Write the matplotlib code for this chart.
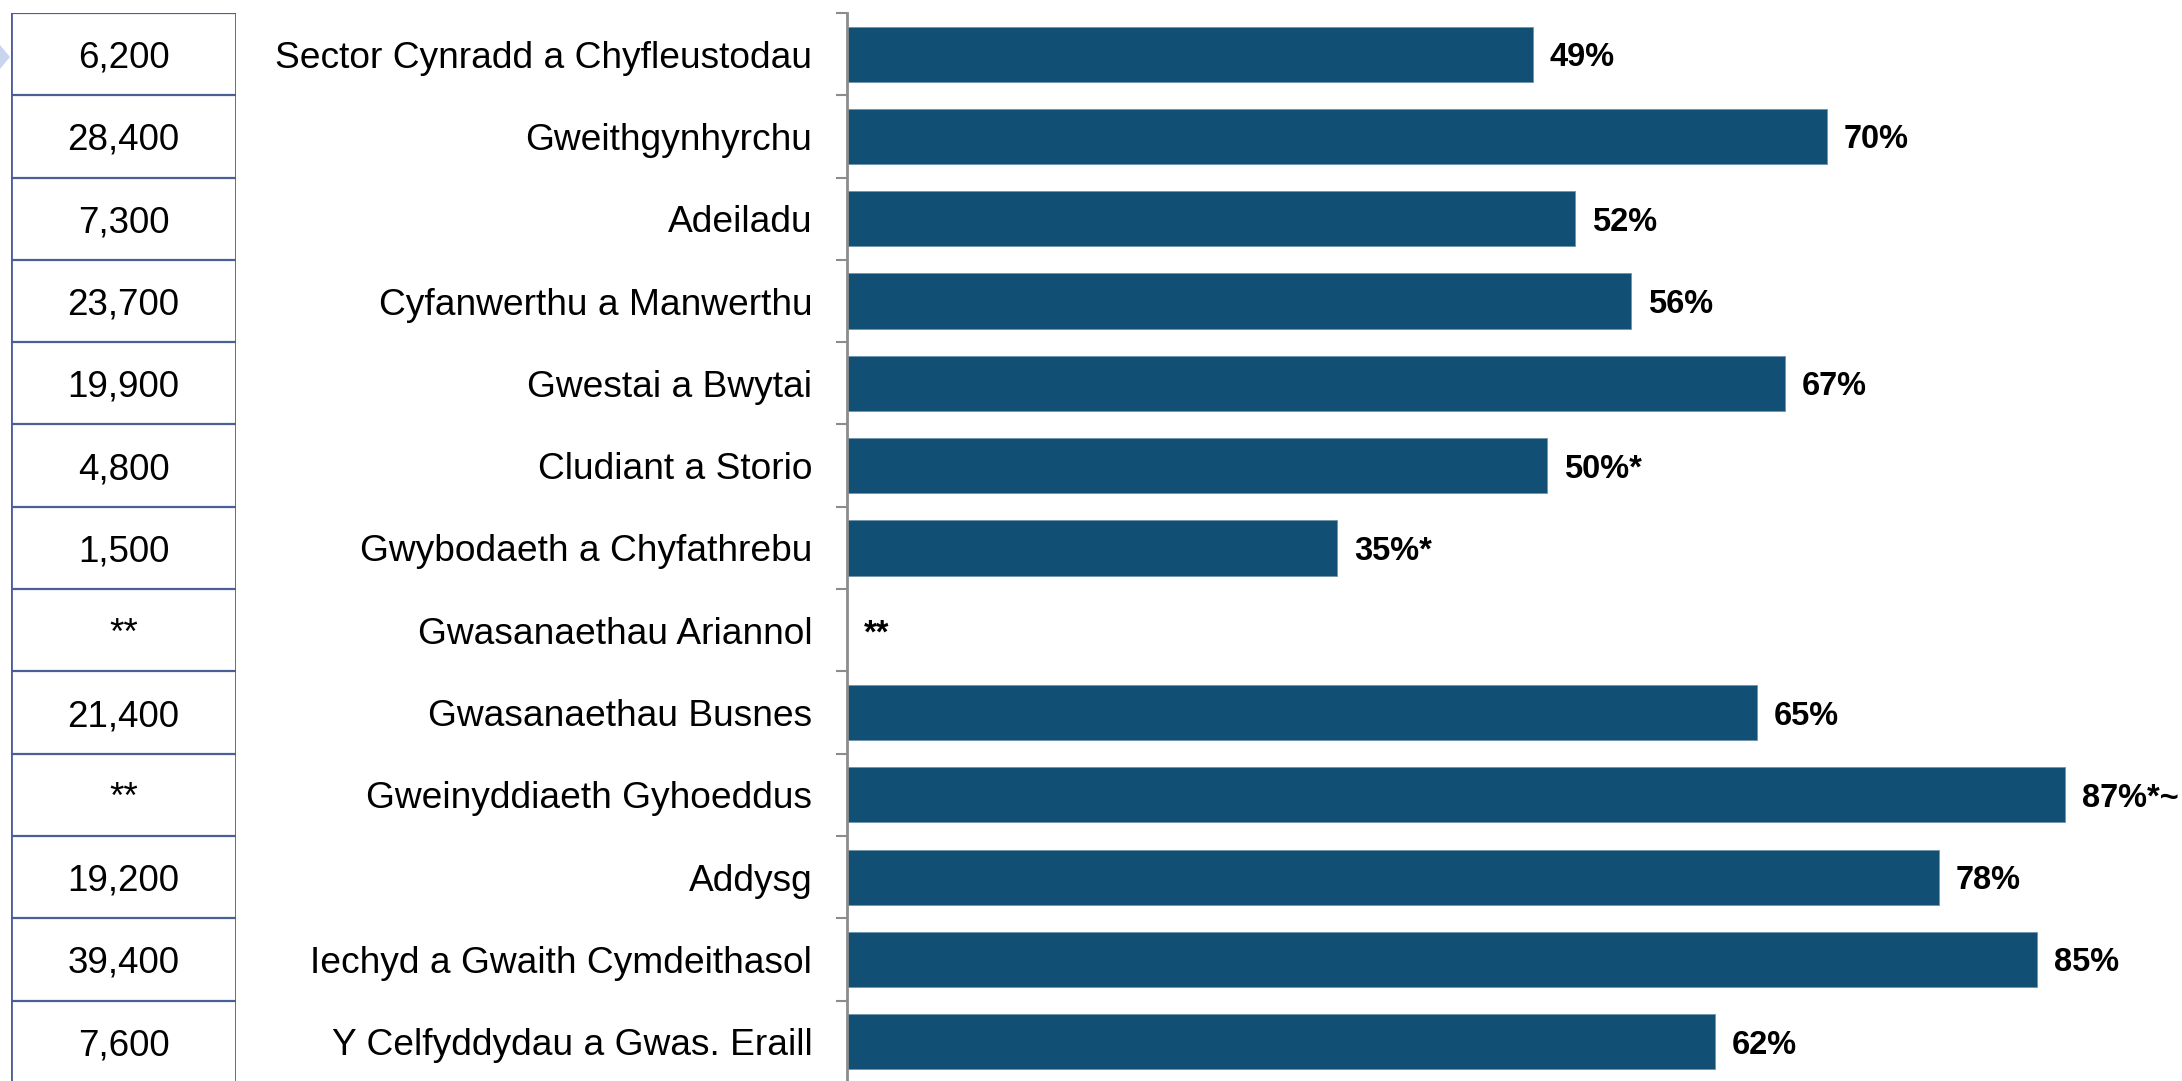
"""
Sector share bar chart with a side table of counts.
"""

import numpy as np
import matplotlib.pyplot as plt
from matplotlib.patches import Polygon

plt.rcParams['font.family'] = ['Liberation Sans', 'DejaVu Sans']

# Data
sectors = [
    'Sector Cynradd a Chyfleustodau',
    'Gweithgynhyrchu',
    'Adeiladu',
    'Cyfanwerthu a Manwerthu',
    'Gwestai a Bwytai',
    'Cludiant a Storio',
    'Gwybodaeth a Chyfathrebu',
    'Gwasanaethau Ariannol',
    'Gwasanaethau Busnes',
    'Gweinyddiaeth Gyhoeddus',
    'Addysg',
    'Iechyd a Gwaith Cymdeithasol',
    'Y Celfyddydau a Gwas. Eraill',
]
shares = [49, 70, 52, 56, 67, 50, 35, np.nan, 65, 87, 78, 85, 62]
share_labels = ['49%', '70%', '52%', '56%', '67%', '50%*', '35%*', '**',
                '65%', '87%*~', '78%', '85%', '62%']
counts = ['6,200', '28,400', '7,300', '23,700', '19,900', '4,800', '1,500',
          '**', '21,400', '**', '19,200', '39,400', '7,600']

BAR_COLOR = '#114f75'
TABLE_LINE = '#4a5f96'
SPINE_GREY = '#8c8c8c'

W, H = 2182, 1081
fig = plt.figure(figsize=(W / 100, H / 100), dpi=100)

n = len(sectors)
y = np.arange(n)
ax_top = 1 - 13 / H
ax_bottom = ax_top - 13 * 82.3 / H

# Main bar panel
ax = fig.add_axes([847 / W, ax_bottom, 1 - 847 / W, ax_top - ax_bottom])
ax.barh(y, np.nan_to_num(shares), height=0.67, color=BAR_COLOR,
        edgecolor='#6f93ad', linewidth=0.6)
ax.set_xlim(0, (W - 847) / 14.0)
ax.set_ylim(n - 0.5, -0.5)

for yi, v, lab in zip(y, shares, share_labels):
    xv = 0 if np.isnan(v) else v
    ax.text(xv + 1.2, yi, lab, va='center_baseline', ha='left',
            fontsize=23.5, fontweight='bold', color='black')

# ticks on category boundaries, labels on centres
ax.set_yticks(np.arange(-0.5, n, 1.0))
ax.set_yticklabels([])
ax.tick_params(axis='y', which='major', length=8, width=1.5, color=SPINE_GREY)
ax.set_yticks(y, minor=True)
ax.set_yticklabels(sectors, minor=True, fontsize=26.7)
for lbl in ax.get_yticklabels(minor=True):
    lbl.set_verticalalignment('center_baseline')
ax.tick_params(axis='y', which='minor', length=0, pad=25)
ax.set_xticks([])
for side in ['top', 'right', 'bottom']:
    ax.spines[side].set_visible(False)
ax.spines['left'].set_color(SPINE_GREY)
ax.spines['left'].set_linewidth(2)

# Side table of counts
tab = fig.add_axes([11 / W, ax_bottom, (236 - 11) / W, ax_top - ax_bottom],
                   sharey=ax)
tab.set_xlim(0, 1)
tab.axis('off')
for b in np.arange(-0.5, n, 1.0):
    tab.axhline(b, color=TABLE_LINE, linewidth=1.6)
tab.axvline(0, color=TABLE_LINE, linewidth=2)
tab.axvline(1, color=TABLE_LINE, linewidth=2)
for yi, c in zip(y, counts):
    tab.text(0.5, yi, c, ha='center', va='center_baseline', fontsize=26.5)

# decorative chevron at the left edge
fig.patches.append(Polygon([(0, 1 - 45 / H), (10 / W, 1 - 57 / H), (0, 1 - 69 / H)],
                           closed=True, transform=fig.transFigure,
                           facecolor='#c9d5ef', edgecolor='none'))

fig.savefig('out.png', dpi=100)
